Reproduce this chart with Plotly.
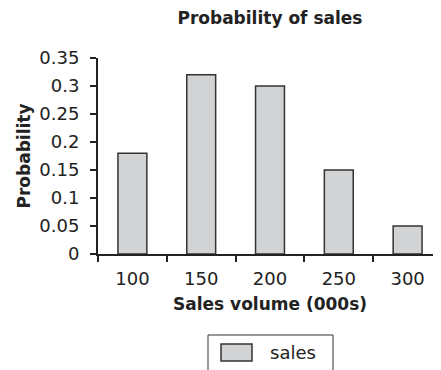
import plotly.graph_objects as go

categories = ["100", "150", "200", "250", "300"]
probabilities = [0.18, 0.32, 0.30, 0.15, 0.05]
y_ticks = [0, 0.05, 0.1, 0.15, 0.2, 0.25, 0.3, 0.35]
y_tick_labels = ["0", "0.05", "0.1", "0.15", "0.2", "0.25", "0.3", "0.35"]
series_name = "sales"

FONT = "DejaVu Sans, Verdana, sans-serif"
INK = "#222222"
BAR_FILL = "#d2d3d5"
BAR_EDGE = "#333333"

fig = go.Figure()
fig.add_trace(go.Bar(
    x=categories, y=probabilities, name=series_name,
    marker=dict(color=BAR_FILL, line=dict(color=BAR_EDGE, width=1.5)),
    width=0.42, showlegend=False,
))

# Legend drawn in paper coordinates (box, swatch, label) below the axis
fig.add_shape(type="rect", xref="paper", yref="paper",
              x0=0.3198, x1=0.6831, y0=-0.4133, y1=-0.70,
              line=dict(color=BAR_EDGE, width=1), fillcolor="white", layer="above")
fig.add_shape(type="rect", xref="paper", yref="paper",
              x0=0.3576, x1=0.4477, y0=-0.459, y1=-0.546,
              line=dict(color=BAR_EDGE, width=1.5), fillcolor=BAR_FILL, layer="above")
fig.add_annotation(text=series_name, xref="paper", yref="paper",
                   x=0.494, y=-0.50, xanchor="left", yanchor="middle",
                   showarrow=False, font=dict(size=18, color=INK))

fig.update_layout(
    width=441, height=370,
    margin=dict(l=90, r=7, t=50, b=124, pad=0),
    paper_bgcolor="white", plot_bgcolor="white",
    font=dict(family=FONT, size=18, color=INK),
    title=dict(text="<b>Probability of sales</b>", x=0.594, xanchor="center",
               y=0.973, yanchor="middle", yref="container",
               font=dict(size=17, color=INK)),
    showlegend=False,
)
fig.update_xaxes(
    type="category", tickson="boundaries", ticks="outside", ticklen=6,
    tickwidth=1.5, tickcolor=INK, automargin=False,
    showline=True, linecolor=INK, linewidth=2, showgrid=False,
    tickfont=dict(size=18), ticklabelstandoff=7,
    title=dict(text="<b>Sales volume (000s)</b>", font=dict(size=17), standoff=11),
)
fig.update_yaxes(
    range=[0, 0.35], tickvals=y_ticks, ticktext=y_tick_labels,
    ticks="outside", ticklen=6, tickwidth=1.5, tickcolor=INK, automargin=False,
    showline=True, linecolor=INK, linewidth=2, showgrid=False,
    zeroline=False, tickfont=dict(size=18), ticklabelstandoff=7,
    title=dict(text="<b>Probability</b>", font=dict(size=17), standoff=4),
)

fig.write_html("out.html")
